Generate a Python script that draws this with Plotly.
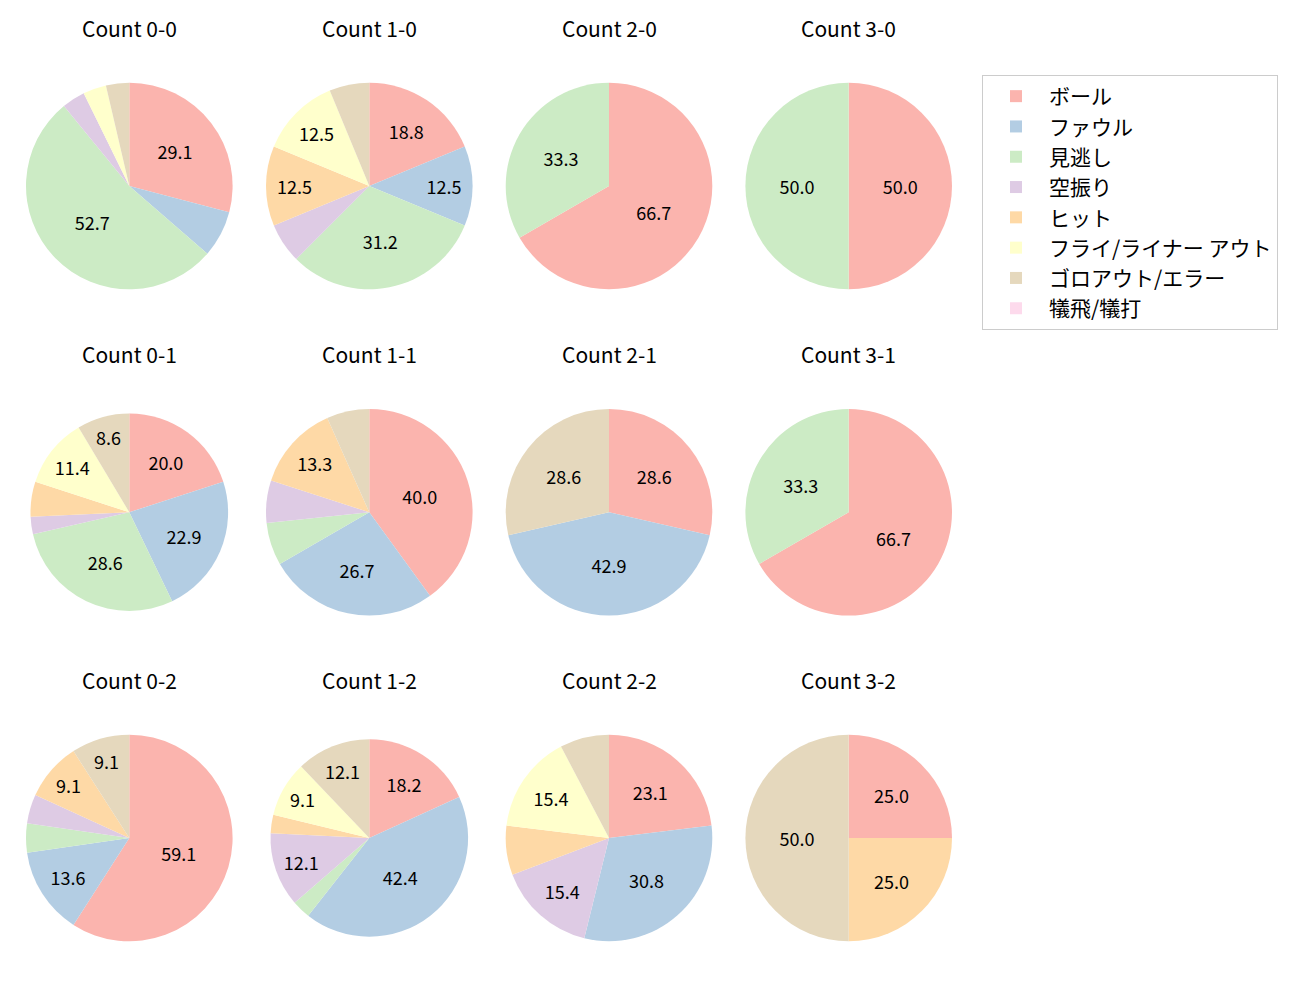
import plotly.graph_objects as go

categories = ["ボール", "ファウル", "見逃し", "空振り", "ヒット",
              "フライ/ライナー アウト", "ゴロアウト/エラー", "犠飛/犠打"]
colors = ["#fbb4ae", "#b3cde3", "#ccebc5", "#decbe4", "#fed9a6",
          "#ffffcc", "#e5d8bd", "#fddaec"]

count_titles = [["Count 0-0", "Count 1-0", "Count 2-0", "Count 3-0"],
                ["Count 0-1", "Count 1-1", "Count 2-1", "Count 3-1"],
                ["Count 0-2", "Count 1-2", "Count 2-2", "Count 3-2"]]

counts_0_0 = [16, 4, 29, 2, 0, 2, 2, 0]
counts_1_0 = [3, 2, 5, 1, 2, 2, 1, 0]
counts_2_0 = [2, 0, 1, 0, 0, 0, 0, 0]
counts_3_0 = [1, 0, 1, 0, 0, 0, 0, 0]
counts_0_1 = [7, 8, 10, 1, 2, 4, 3, 0]
counts_1_1 = [6, 4, 1, 1, 2, 0, 1, 0]
counts_2_1 = [2, 3, 0, 0, 0, 0, 2, 0]
counts_3_1 = [2, 0, 1, 0, 0, 0, 0, 0]
counts_0_2 = [13, 3, 1, 1, 2, 0, 2, 0]
counts_1_2 = [6, 14, 1, 4, 1, 3, 4, 0]
counts_2_2 = [3, 4, 0, 2, 1, 2, 1, 0]
counts_3_2 = [1, 0, 0, 0, 1, 0, 2, 0]

grid = [[counts_0_0, counts_1_0, counts_2_0, counts_3_0],
        [counts_0_1, counts_1_1, counts_2_1, counts_3_1],
        [counts_0_2, counts_1_2, counts_2_2, counts_3_2]]

W, H = 1300, 1000
col_cx = [129.3, 369.3, 609.0, 848.7]
row_cy = [186.0, 512.3, 838.0]
radius = [[103.3, 103.3, 103.3, 103.3],
          [98.8, 103.3, 103.3, 103.3],
          [103.3, 98.8, 103.3, 103.3]]
title_offset = 158

FONT = "Noto Sans CJK JP"

fig = go.Figure()
for i, row in enumerate(grid):
    for j, vals in enumerate(row):
        total = sum(vals)
        texts = []
        for v in vals:
            p = 100.0 * v / total
            texts.append("%.1f" % p if p >= 8 else "")
        cx, cy, r = col_cx[j], row_cy[i], radius[i][j]
        fig.add_trace(go.Pie(
            labels=categories,
            values=vals,
            text=texts,
            textinfo="text",
            textposition="inside",
            insidetextorientation="horizontal",
            textfont=dict(family=FONT, size=18, color="black"),
            marker=dict(colors=colors, line=dict(width=0)),
            sort=False,
            direction="clockwise",
            rotation=0,
            hoverinfo="label+value+percent",
            domain=dict(x=[(cx - r) / W, (cx + r) / W],
                        y=[1 - (cy + r) / H, 1 - (cy - r) / H]),
        ))
        fig.add_annotation(
            x=cx / W, y=1 - (cy - title_offset) / H, xref="paper", yref="paper",
            text=count_titles[i][j], showarrow=False,
            font=dict(family=FONT, size=21, color="black"),
            xanchor="center", yanchor="middle",
        )

fig.update_layout(
    width=W, height=H,
    margin=dict(l=0, r=0, t=0, b=0, pad=0),
    paper_bgcolor="white", plot_bgcolor="white",
    uniformtext=dict(minsize=18, mode="show"),
    legend=dict(
        x=982 / W, y=1 - 75 / H, xanchor="left", yanchor="top",
        bordercolor="#cccccc", borderwidth=1, bgcolor="white",
        font=dict(family=FONT, size=21, color="black"),
        itemwidth=56, traceorder="normal",
    ),
    font=dict(family=FONT),
)

fig.write_html("out.html")
